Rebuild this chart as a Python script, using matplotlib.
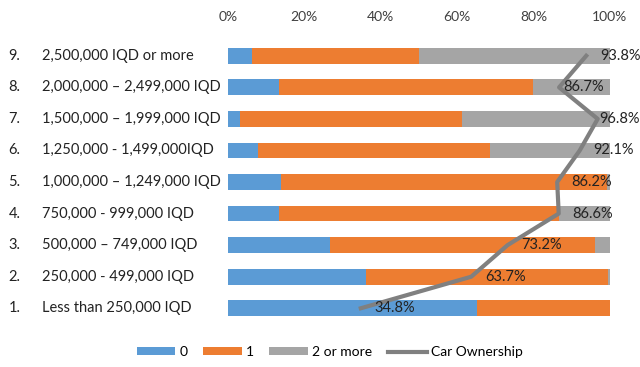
import matplotlib.pyplot as plt
import matplotlib.transforms as mtransforms
import numpy as np

# data, bottom row first (category 1 .. 9)
nums = ["1.", "2.", "3.", "4.", "5.", "6.", "7.", "8.", "9."]
labels = [
    "Less than 250,000 IQD",
    "250,000 - 499,000 IQD",
    "500,000 \u2013 749,000 IQD",
    "750,000 - 999,000 IQD",
    "1,000,000 \u2013 1,249,000 IQD",
    "1,250,000 - 1,499,000IQD",
    "1,500,000 \u2013 1,999,000 IQD",
    "2,000,000 \u2013 2,499,000 IQD",
    "2,500,000 IQD or more",
]
share_0 = [65.2, 36.2, 26.8, 13.4, 13.9, 7.8, 3.1, 13.4, 6.2]
share_1 = [34.8, 63.4, 69.4, 73.2, 85.4, 60.7, 58.2, 66.5, 43.8]
share_2plus = [0.0, 0.4, 3.8, 13.4, 0.7, 31.5, 38.7, 20.1, 50.0]
car_own = [34.8, 63.7, 73.2, 86.6, 86.2, 92.1, 96.8, 86.7, 93.8]
ticks = [0, 20, 40, 60, 80, 100]

# label offsets (points) to the right of each line point
label_dx = [10, 10, 10, 10, 10, 10, 1, 3, 10]

plt.rcParams['font.family'] = ['Lato', 'DejaVu Sans']

fig = plt.figure(figsize=(6.4, 3.67), dpi=100)
ax = fig.add_axes([0.356, 0.117, 0.597, 0.774])

y = np.arange(len(labels))
h = 0.5
s0 = np.array(share_0)
s1 = np.array(share_1)
s2 = np.array(share_2plus)
b0 = ax.barh(y, s0, h, color="#5B9BD5", label="0")
b1 = ax.barh(y, s1, h, left=s0, color="#ED7D31", label="1")
b2 = ax.barh(y, s2, h, left=s0 + s1, color="#A5A5A5", label="2 or more")
ln, = ax.plot(car_own, y, color="#808080", lw=3, label="Car Ownership")

for v, yy, dx in zip(car_own, y, label_dx):
    ax.annotate(f"{v:.1f}%", (v, yy), xytext=(dx, 0), textcoords="offset points",
                ha="left", va="center", fontsize=10.5, color="#222222",
                annotation_clip=False)

ax.set_xlim(0, 100)
ax.set_ylim(-0.5, len(labels) - 0.5)
ax.set_xticks(ticks)
ax.set_xticklabels([f"{t}%" for t in ticks], fontsize=10, color="#404040")
ax.xaxis.tick_top()
ax.tick_params(axis="x", length=0, pad=12)
ax.set_yticks([])
for sp in ax.spines.values():
    sp.set_visible(False)

trans = mtransforms.blended_transform_factory(fig.transFigure, ax.transData)
for n, lab, yy in zip(nums, labels, y):
    ax.text(0.013, yy, n, transform=trans, ha="left", va="center", fontsize=10.5, color="#222222")
    ax.text(0.066, yy, lab, transform=trans, ha="left", va="center", fontsize=10.5, color="#222222")

fig.legend(handles=[b0, b1, b2, ln], loc="lower center", bbox_to_anchor=(0.515, -0.01),
           ncol=4, frameon=False, fontsize=10, handlelength=2.8, handleheight=0.5,
           columnspacing=1.1, handletextpad=0.3)

fig.savefig("out.png", dpi=100)
